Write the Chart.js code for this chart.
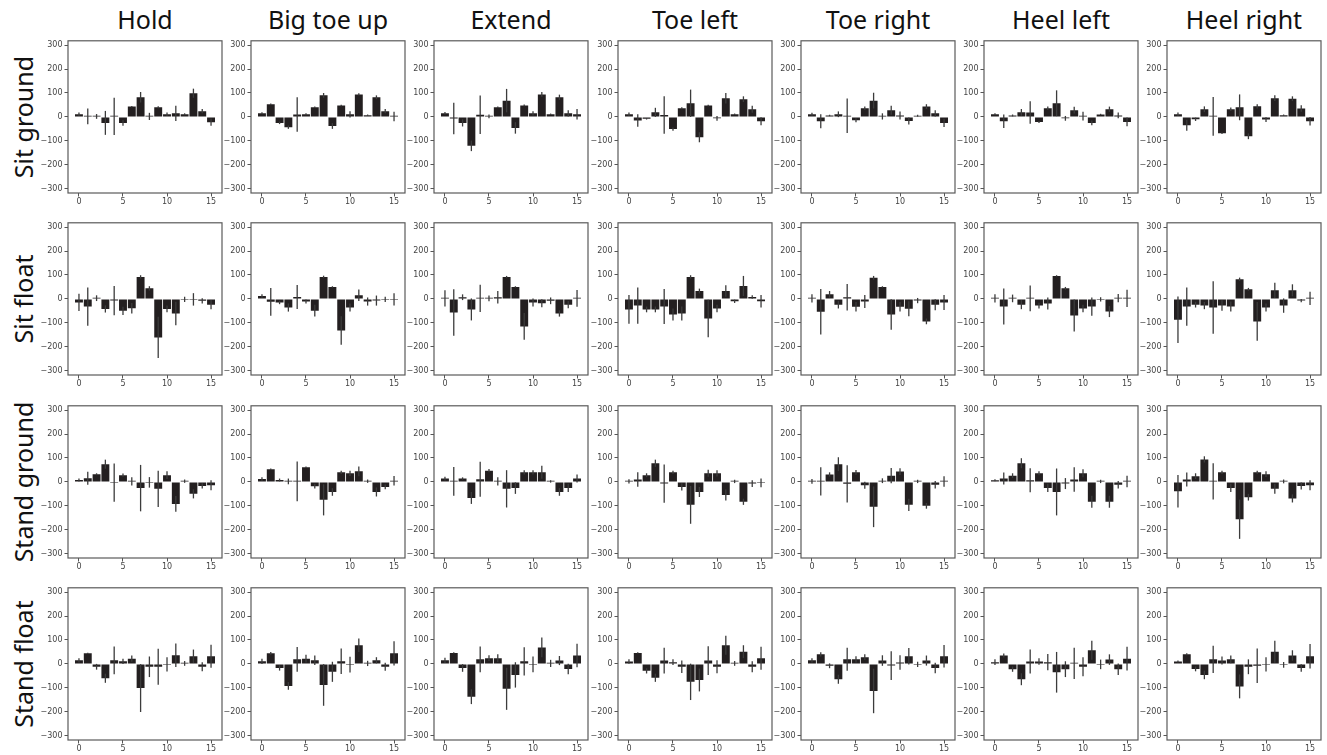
<!DOCTYPE html>
<html>
<head>
<meta charset="utf-8">
<script src="https://cdn.jsdelivr.net/npm/chart.js@4.4.1/dist/chart.umd.min.js"></script>
<style>
  body { margin: 0; background: #fff; width: 1327px; height: 755px; overflow: hidden; position: relative; font-family: "Noto Sans", sans-serif; }
  .col-title { position: absolute; top: 3px; width: 200px; font-size: 25px; line-height: 32px; color: #111; text-align: center; white-space: nowrap; }
  .row-title { position: absolute; font-size: 25px; line-height: 32px; color: #111; white-space: nowrap; transform: translate(-50%, -50%) rotate(-90deg); }
  canvas { position: absolute; }
</style>
</head>
<body>
<script>
// Column headings (gestures) and row headings (postures)
const gestures = ['Hold', 'Big toe up', 'Extend', 'Toe left', 'Toe right', 'Heel left', 'Heel right'];
const postures = ['Sit ground', 'Sit float', 'Stand ground', 'Stand float'];
const channels = [0, 1, 2, 3, 4, 5, 6, 7, 8, 9, 10, 11, 12, 13, 14, 15];
const xTicks = [0, 5, 10, 15];
const yTicks = [-300, -200, -100, 0, 100, 200, 300];

// Mean per channel, one row of 16 per gesture
const sitGroundMean = [
  [11, 2, 2, -25, 2, -25, 43, 82, 2, 40, 11, 15, 11, 99, 24, -22],
  [15, 53, -25, -43, 10, 11, 40, 90, -38, 48, 11, 94, 7, 82, 24, 2],
  [15, -7, -25, -121, 9, 2, 40, 68, -46, 48, 15, 94, 11, 82, 15, 11],
  [11, -15, -8, 19, 8, -51, 36, 57, -85, 48, -6, 78, 11, 74, 32, -18],
  [11, -18, 6, 11, 5, -14, 36, 68, 2, 28, 6, -17, 5, 43, 15, -25],
  [11, -18, 6, 19, 18, -21, 36, 57, -6, 28, 3, -25, 10, 32, 6, -21],
  [11, -35, -10, 32, 2, -68, 32, 40, -81, 44, -11, 78, 7, 76, 35, -18]
];
const sitGroundErr = [
  [7, 33, 10, 50, 78, 12, 3, 22, 15, 4, 7, 32, 4, 19, 9, 15],
  [4, 3, 5, 7, 72, 4, 3, 10, 12, 3, 13, 5, 3, 8, 9, 20],
  [5, 66, 15, 22, 80, 8, 3, 49, 24, 4, 9, 10, 3, 11, 13, 22],
  [7, 26, 3, 19, 78, 7, 4, 57, 21, 3, 10, 22, 3, 12, 15, 17],
  [6, 29, 3, 12, 72, 8, 7, 33, 13, 19, 17, 15, 4, 10, 13, 17],
  [4, 28, 4, 14, 47, 4, 7, 54, 10, 14, 18, 10, 3, 11, 12, 18],
  [7, 23, 7, 12, 81, 3, 7, 54, 12, 9, 10, 12, 3, 10, 14, 18]
];

const sitFloatMean = [
  [-15, -32, 3, -42, -7, -50, -39, 92, 44, -161, -42, -61, -2, -2, -8, -24],
  [12, -12, -15, -36, 8, -11, -49, 92, 50, -132, -36, 15, -11, -7, -2, -2],
  [2, -57, 7, -44, 2, 2, 7, 92, 50, -115, -15, -18, -8, -61, -24, 2],
  [-44, -28, -44, -44, -32, -65, -61, 92, 33, -82, -40, 33, -10, 54, 8, -10],
  [2, -54, 19, -24, 7, -33, -11, 88, 50, -65, -33, -41, -7, -94, -24, -15],
  [2, -32, 2, -24, 2, -28, -19, 96, 44, -69, -40, -32, -2, -53, 3, 2],
  [-87, -32, -24, -28, -36, -28, -32, 82, 40, -94, -36, 36, -28, 36, -7, 2]
];
const sitFloatErr = [
  [36, 80, 12, 15, 61, 17, 22, 7, 9, 86, 14, 49, 11, 26, 11, 19],
  [7, 58, 7, 17, 50, 8, 25, 5, 3, 60, 17, 24, 17, 21, 11, 26],
  [34, 97, 12, 46, 57, 12, 26, 4, 3, 56, 17, 17, 14, 13, 15, 35],
  [60, 76, 12, 12, 73, 25, 29, 7, 10, 78, 16, 24, 7, 42, 7, 26],
  [17, 95, 14, 16, 55, 20, 27, 8, 3, 64, 20, 31, 11, 12, 23, 31],
  [17, 75, 16, 19, 54, 12, 25, 3, 6, 67, 16, 38, 9, 23, 17, 36],
  [97, 80, 12, 15, 110, 22, 21, 7, 6, 81, 17, 32, 30, 25, 7, 28]
];

const standGroundMean = [
  [8, 15, 32, 74, -3, 28, 2, -26, -2, -29, 28, -92, 3, -50, -17, -14],
  [12, 53, 8, 2, 2, 61, -18, -75, -42, 40, 36, 44, 3, -42, -21, 5],
  [14, 2, 14, -67, 11, 47, 2, -29, -26, 40, 40, 40, 2, -42, -25, 14],
  [2, 10, 28, 78, -7, 40, -21, -96, -42, 36, 36, -55, 2, -83, -7, -4],
  [2, 2, 31, 74, -8, 40, -14, -104, 5, 26, 43, -96, 2, -100, -12, 2],
  [7, 14, 26, 78, 7, 36, -25, -42, -7, 10, 36, -83, 2, -83, -12, 2],
  [-39, 10, 24, 94, 2, 40, -25, -156, -64, 40, 32, -29, 2, -69, -17, -14]
];
const standGroundErr = [
  [6, 27, 4, 19, 80, 7, 17, 97, 22, 76, 16, 33, 7, 19, 11, 21],
  [7, 3, 6, 12, 83, 3, 10, 65, 16, 7, 11, 20, 7, 19, 10, 20],
  [8, 60, 5, 25, 73, 7, 17, 78, 24, 9, 9, 27, 5, 16, 17, 17],
  [9, 30, 8, 15, 80, 7, 15, 79, 21, 15, 13, 23, 7, 13, 14, 18],
  [10, 59, 9, 29, 78, 10, 15, 85, 10, 32, 14, 26, 7, 12, 16, 22],
  [4, 25, 10, 21, 50, 8, 17, 98, 23, 51, 17, 25, 7, 25, 16, 24],
  [68, 29, 12, 13, 76, 7, 17, 82, 14, 7, 12, 21, 8, 17, 15, 21]
];

const standFloatMean = [
  [15, 44, -12, -60, 15, 11, 22, -101, -12, -12, -2, 36, 2, 32, -12, 32],
  [11, 44, -17, -92, 19, 22, 15, -88, -33, 11, -3, 78, 2, 15, -12, 44],
  [15, 46, -17, -137, 19, 24, 24, -104, -46, 11, -2, 69, 2, 14, -21, 35],
  [10, 46, -29, -58, 14, 7, -12, -75, -67, 14, -12, 78, 2, 51, -12, 24],
  [15, 40, -8, -64, 19, 19, 28, -113, 14, -7, 6, 32, -2, 14, -17, 32],
  [7, 35, -22, -64, 10, 10, 7, -35, -22, 2, -12, 57, -2, 18, -22, 22],
  [10, 40, -21, -46, 19, 14, 19, -94, -12, -8, -2, 51, -4, 35, -17, 32]
];
const standFloatErr = [
  [9, 3, 12, 19, 58, 11, 13, 100, 43, 75, 30, 49, 10, 28, 19, 48],
  [11, 6, 11, 16, 52, 16, 20, 87, 42, 53, 33, 28, 11, 13, 17, 51],
  [11, 3, 16, 31, 54, 12, 16, 88, 53, 59, 33, 41, 15, 19, 22, 49],
  [9, 3, 11, 17, 54, 12, 26, 76, 48, 60, 27, 40, 10, 27, 23, 48],
  [9, 9, 10, 19, 48, 13, 12, 93, 22, 60, 30, 34, 11, 21, 22, 47],
  [12, 8, 11, 25, 50, 14, 34, 85, 33, 65, 40, 40, 20, 22, 24, 50],
  [4, 4, 10, 18, 57, 17, 16, 50, 31, 72, 30, 46, 12, 22, 16, 51]
];

const rowMeans = [sitGroundMean, sitFloatMean, standGroundMean, standFloatMean];
const rowErrs = [sitGroundErr, sitFloatErr, standGroundErr, standFloatErr];

// Grid geometry (plot-area boxes)
const COL_LEFT = [68, 251, 434, 618, 801, 984, 1167];
const ROW_TOP = [40, 222, 405, 587];
const PW = 154, PH = 153;
const PAD_L = 40, PAD_R = 8, PAD_T = 6, PAD_B = 16;

// Outline the whole plot area like a boxed axes
const framePlugin = {
  id: 'frame',
  afterDraw(chart) {
    const { ctx, chartArea: a } = chart;
    ctx.save();
    ctx.strokeStyle = '#5a5a5a';
    ctx.lineWidth = 1.2;
    ctx.strokeRect(a.left, a.top, a.right - a.left, a.bottom - a.top);
    ctx.restore();
  }
};

// Vertical error bars centred on each bar
const errorBarPlugin = {
  id: 'errorBars',
  afterDatasetsDraw(chart) {
    const { ctx } = chart;
    const yScale = chart.scales.y;
    chart.data.datasets.forEach((ds, di) => {
      const meta = chart.getDatasetMeta(di);
      meta.data.forEach((bar, i) => {
        const v = ds.data[i].y, e = ds.errors[i];
        const y1 = yScale.getPixelForValue(v + e);
        const y2 = yScale.getPixelForValue(v - e);
        ctx.save();
        ctx.strokeStyle = '#3c3c3c';
        ctx.lineWidth = 1.3;
        ctx.beginPath();
        ctx.moveTo(bar.x, y1);
        ctx.lineTo(bar.x, y2);
        ctx.stroke();
        ctx.restore();
      });
    });
  }
};

const tickFont = { family: 'DejaVu Sans', size: 8 };

function makePanel(r, c) {
  const means = rowMeans[r][c];
  const errs = rowErrs[r][c];
  const canvas = document.createElement('canvas');
  canvas.width = PW + PAD_L + PAD_R;
  canvas.height = PH + PAD_T + PAD_B;
  canvas.style.left = (COL_LEFT[c] - PAD_L) + 'px';
  canvas.style.top = (ROW_TOP[r] - PAD_T) + 'px';
  document.body.appendChild(canvas);

  new Chart(canvas, {
    type: 'bar',
    data: {
      datasets: [{
        data: channels.map((ch, i) => ({ x: ch, y: means[i] })),
        errors: errs,
        backgroundColor: '#231f20',
        borderWidth: 0,
        barPercentage: 0.9,
        categoryPercentage: 1,
        minBarLength: 1.2
      }]
    },
    options: {
      responsive: false,
      animation: false,
      devicePixelRatio: 1,
      layout: { padding: { left: 0, top: PAD_T, right: PAD_R, bottom: 0 } },
      plugins: { legend: { display: false }, tooltip: { enabled: false } },
      scales: {
        x: {
          type: 'linear',
          offset: false,
          min: -1.245,
          max: 16.245,
          afterBuildTicks: s => { s.ticks = xTicks.map(v => ({ value: v })); },
          afterFit: s => { s.height = PAD_B; },
          grid: { display: true, offset: false, drawOnChartArea: false, drawTicks: true, tickLength: 3.5, tickColor: '#555', tickWidth: 1 },
          border: { display: false },
          ticks: { font: tickFont, color: '#444', padding: 1, maxRotation: 0, autoSkip: false }
        },
        y: {
          type: 'linear',
          min: -318,
          max: 318,
          afterBuildTicks: s => { s.ticks = yTicks.map(v => ({ value: v })); },
          afterFit: s => { s.width = PAD_L; },
          grid: { display: true, drawOnChartArea: false, drawTicks: true, tickLength: 3.5, tickColor: '#555', tickWidth: 1 },
          border: { display: false },
          ticks: {
            font: tickFont, color: '#444', padding: 2, autoSkip: false,
            callback: v => String(v).replace('-', '\u2212')
          }
        }
      }
    },
    plugins: [framePlugin, errorBarPlugin]
  });
}

gestures.forEach((g, c) => {
  const d = document.createElement('div');
  d.className = 'col-title';
  d.textContent = g;
  d.style.left = (COL_LEFT[c] + PW / 2 - 100) + 'px';
  document.body.appendChild(d);
});
postures.forEach((p, r) => {
  const d = document.createElement('div');
  d.className = 'row-title';
  d.textContent = p;
  d.style.left = '23px';
  d.style.top = (ROW_TOP[r] + PH / 2) + 'px';
  document.body.appendChild(d);
});

for (let r = 0; r < postures.length; r++) {
  for (let c = 0; c < gestures.length; c++) makePanel(r, c);
}
</script>
</body>
</html>
